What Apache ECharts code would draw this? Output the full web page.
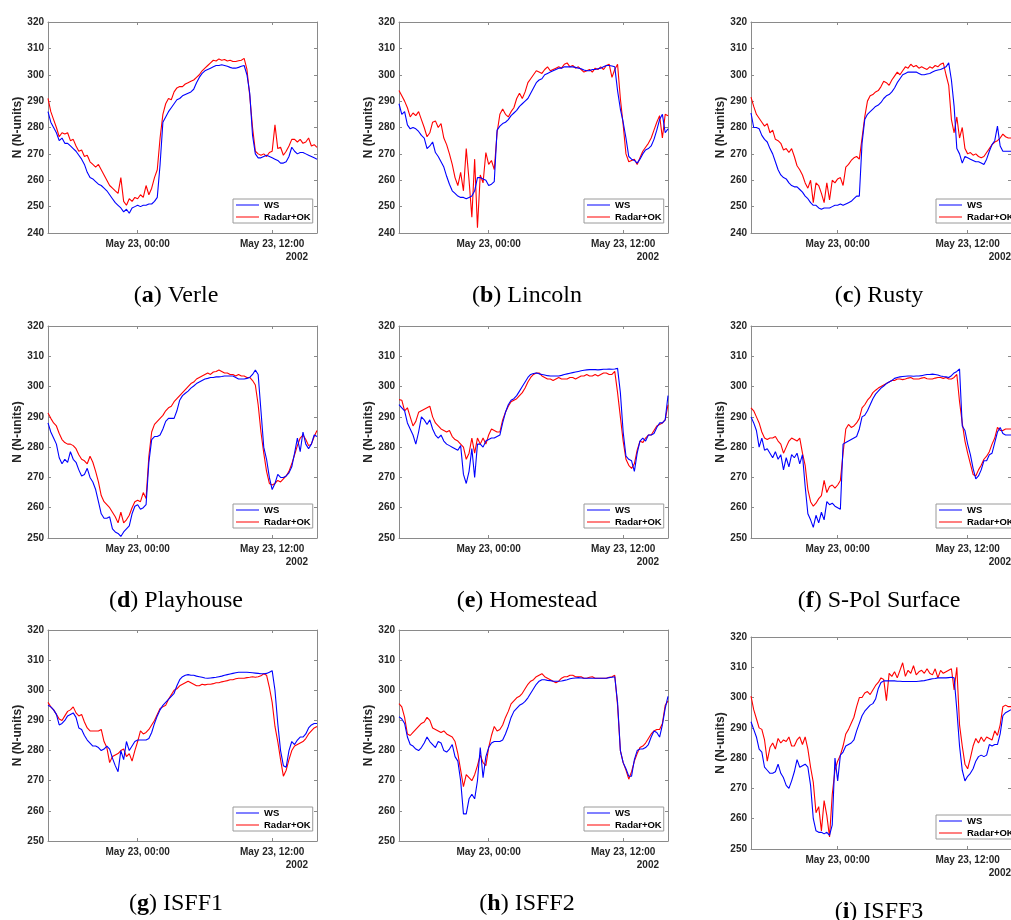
<!DOCTYPE html>
<html>
<head>
<meta charset="utf-8">
<script src="https://cdn.jsdelivr.net/npm/echarts@6.0.0/dist/echarts.min.js"></script>
<style>
html,body{margin:0;padding:0;background:#fff;}
#chart{width:1011px;height:920px;}
</style>
</head>
<body>
<div id="chart"></div>
<script>
// ---------- data ----------
// time axis: hours relative to May 23, 2002 00:00; samples every 15 minutes from May 22 16:00
const startHour = -8;
const stepHours = 0.25;
const xMinHour = -8;
const xMaxHour = 16;
const xTickHours = [0, 12];
const xTickLabels = ['May 23, 00:00', 'May 23, 12:00'];
const yearLabel = '2002';
const yAxisName = 'N (N-units)';
const seriesNames = ['WS', 'Radar+OK'];
const panelLetters = ['a', 'b', 'c', 'd', 'e', 'f', 'g', 'h', 'i'];
const panelNames = ['Verle', 'Lincoln', 'Rusty', 'Playhouse', 'Homestead', 'S-Pol Surface', 'ISFF1', 'ISFF2', 'ISFF3'];
const yMins = [240, 240, 240, 250, 250, 250, 250, 250, 250];
const yMax = 320;
const yInterval = 10;

const wsVerle = [
 286,282,280,278, 275,276,274,274, 273,272,271,269.5, 268,266,263,261,
 260.5,259.5,258.5,258, 257,256,254.5,253, 251.5,250.5,249.5,248, 249,247.5,249.5,250,
 250.5,250,250.5,250.5, 251,251,252,253.5, 266,282,284,286, 287.5,289,290.5,291,
 292,292.5,293,293.5, 294.5,297,299,300.5, 301.5,302,302.5,303, 303.5,303.5,303.8,303.5,
 303.2,302.8,302.5,302.5, 302.8,303.2,303.5,300, 293,277,270,268.5, 268.5,269,269.5,269,
 268.5,268,267.5,266.5, 266.5,267,269,272.5, 271,270,270.5,270.5, 270,269.5,269,268.5, 268];
const radarVerle = [
 291,286,283,280, 276.5,278,277.5,278, 275,275.5,273,271, 271.5,269,269.5,267,
 266,265,266,264, 262,260,258,257, 256,255,261,252, 250.5,253,252,253.5,
 253,254.5,253.5,258, 254.5,257,261,264, 276,285,289,291, 290.5,293.5,295,295.5,
 295.5,296.5,297,297.5, 298,299,300,301.5, 302.5,303.5,304.5,305.5, 305.2,306,305.5,305.8,
 305.2,305.5,305,305, 305.3,305.5,306.2,302, 292,280,271,270, 269.5,270,269,270.5,
 271,281,272,272.5, 269.5,271,273,275.5, 275.5,274.5,275.5,274, 274.5,276,273,273.5, 272.5];

const wsLincoln = [
 289,285,286,281, 279.5,280,279.5,278.5, 277,276,272,273, 274.5,270.5,269,267,
 265,261.5,258.5,256, 255,254,253.5,253.5, 253,253.5,254,256, 261,261,260.5,260,
 258,258.5,259.5,279, 280.5,281.5,282,283, 284.5,285.5,286.5,288, 289,290,291,293,
 295,297,298,298.5, 300,300.5,301,301.5, 302,302.5,302.5,303, 303,303,303,302.8,
 302.5,302.3,301.8,301.5, 301.5,302,302,302.3, 302.5,303,303.5,303.5, 303.3,303,294,287,
 282,276,269,268, 267.5,266.5,268,270, 271.5,272,273,275.5, 279,283,285,278, 279.5];
const radarLincoln = [
 294,292,290,287.5, 284,285.5,284.5,286, 283,280,276.5,278, 282,282.5,280,281.5,
 276,273.5,270,266, 261,258,263,256, 272,260,246,268, 242,262,259,270.5,
 266,267.5,264,278, 285,287,285,284, 286,287.5,291,293, 291,293.5,297,298.5,
 300,301.5,301,300.5, 302,303,301.5,302, 302.5,303,302.5,304, 304.5,303,303.5,302.5,
 303,302,301,301.5, 302,301,302.5,302, 303,302,303.5,304, 299,302,304,291,
 281,270,267,267.5, 268,266,268.5,271, 272.5,274,276,279, 282,284.5,276,285, 284.5];

const wsRusty = [
 285.5,280,280,279.5, 277,275.5,274.5,272, 270,267,264,262, 261,260.5,259,258,
 257.5,257.5,256.5,255.5, 254,253,251.5,250.5, 250.5,249.5,249,249.5, 249.5,249.5,250,250.5,
 250.5,251,250.5,251, 251.5,252,253,254, 254,274,283,285, 286,287,288,288.5,
 289.5,291,292,292.5, 293.5,295,297,298.5, 300,300.5,301,301, 301,301,300.5,300,
 300,300.3,300.5,301, 301.5,301.8,302,302.5, 303,304.5,298,288, 272,270,266.5,269,
 268.5,268,267.5,267, 267,266.5,266,268, 271,273.5,275,280.5, 273,271,271,271, 271];
const radarRusty = [
 291.5,288,285,283.5, 282,280.5,281.5,278, 279,275.5,275,274, 271.5,272,270.5,272,
 269,265.5,264,262, 259,257,260,251.5, 259,258,255,251.5, 259,252.5,260,259,
 260.5,261,258,265, 266,267.5,268.5,269, 268,276,284,290, 292,292.5,293.5,294,
 295.5,297.5,297,296, 298,299.5,301,300, 301.5,303,302.5,304, 303,303.5,302.5,303,
 302.5,302,303,302.5, 303.5,303,304,304.5, 300,296,283,278, 284,276,280,272,
 270,270.5,269.5,270, 269,268.5,269,270.5, 272,273.5,274.5,275, 276,277.5,276.5,276, 276];

const wsPlayhouse = [
 288,285,283,281, 276.5,274.5,276,275, 278.5,276,275,272.5, 270.5,271,273,270,
 268.5,266,262,258, 256.5,256.5,257,253, 252,251.5,250.5,252, 253,254,258,260.5,
 261,259.5,260,261, 275,282.5,283.5,283.5, 284,286,288.5,289.5, 289.5,289.5,292,295.5,
 297,297.8,298.5,299.5, 300.2,301,301.5,302, 302.5,302.7,303,303, 303.2,303.2,303.3,303.5,
 303.5,303.5,303.5,303, 302.5,302.5,302.5,302.7, 303,304,305.5,304, 292,280,276,270,
 266,268,271,270, 270,270.5,271.5,273.5, 278,283,278.5,285, 281,279.5,281,284, 283.5];
const radarPlayhouse = [
 291.3,289.5,288,287, 284.5,282.5,281.5,281, 281,280.5,279.5,277.5, 276,275.5,274.5,277,
 275,272,268.5,264, 262,261,260,258.5, 257,255,258.5,255, 256,257.5,260,262,
 262.5,262,265,263, 277,285,287.5,288.5, 289.5,290.5,292,293, 293.5,295,296,297,
 298,299,300,301, 301.5,302.5,303,303.5, 304,304.5,304,304.8, 305,305.5,305,304.5,
 304.5,304,304,303.5, 304,303.5,303.5,303, 303,302,300.5,294, 285,278,272,268,
 267.5,268,269,268.5, 269.5,270.5,272,274.5, 277.5,280.5,283,284, 282.5,280.5,281,283.5, 285.5];

const wsHomestead = [
 294,293,292,288, 286,284,281,285, 290,289,287.5,289, 286,284,283,284,
 282,281,280.5,280, 279.5,279,280.5,271, 268,272,279.5,270, 281,281,280,282,
 282.5,283,283,283.5, 284,288,291.5,294, 295.5,296,297,298.5, 300,301.5,303,304,
 304.3,304.5,304.2,304, 303.8,303.6,303.5,303.5, 303.5,303.5,303.7,304, 304.2,304.4,304.6,304.8,
 305,305.2,305.4,305.5, 305.6,305.6,305.6,305.5, 305.6,305.7,305.7,305.8, 305.7,305.8,306,298,
 285,277,276,275.5, 272,278,282,283, 282,284,284,284.5, 286.5,288,288,289, 297];
const radarHomestead = [
 295.7,295.5,292,293, 290,287,288.5,291.5, 292,292.5,293,293.5, 290,288,287,286,
 285.5,285,285.5,283.5, 282.5,282,281,280, 276,278,283,278, 283,281,283,281,
 284,286,285.5,285, 285,289,291.5,293.5, 295,295.5,296,297, 298,299.5,301.5,303,
 304,304.5,304.5,303.5, 303,302.5,302.5,302, 302.5,303,302.5,302.5, 302.5,303,303,302.5,
 303,303.5,303.5,304, 303.5,303.5,304,303.5, 304,304.5,304.5,304, 304,305,298,290,
 282,276,274,273, 274.5,279,282,281.5, 283,284,284,285.5, 287,287.5,288,289, 294];

const wsSPol = [
 290,288,285.5,280, 283,279,279.5,278, 276.5,278.5,276,277.5, 272.5,276.5,273.5,277.5,
 276.5,278,274.5,277.5, 267,258,256,253.5, 257.5,255,258.5,256, 262,261,261.5,260.5,
 260,259.5,281,281.5, 282,282.5,283,283.5, 286,290,290.5,292, 294,296,297.5,298.5,
 299.5,300.2,301,301.5, 302,302.7,303,303.2, 303.3,303.4,303.5,303.5, 303.4,303.5,303.5,303.6,
 303.8,304,304,304.1, 304,303.8,303.5,303.3, 303.2,303,303.6,304.5, 305,305.8,287,285.5,
 281,277.5,273,269.5, 270.5,272.5,275.5,275.5, 277.5,278,281.5,285, 286.5,284.5,284,284, 284];
const radarSPol = [
 293,292,290,288, 285,283,282.5,283, 283,283.5,282,281, 278,280,282,283,
 282.5,282,283,278, 274,266,262,260.5, 261.5,263,264,269, 265,267,267.5,266.5,
 267.5,269,278,286, 287.5,286.5,287,288, 289.5,293,294,295.5, 296.5,298,298.8,299.5,
 300,300.5,301,301.5, 302,302,302.5,302.5, 302.3,302.5,302.8,303, 302.5,302.5,302.5,302.8,
 303,302.6,302.5,302.5, 302.8,303,303,302.7, 303,302.5,302.5,303, 304,295,288,282,
 278,274.5,271,270.5, 272.5,274,276,277, 278.5,281,283,286.5, 285.5,285.5,286,286, 286];

const wsISFF1 = [
 295,294.5,293.5,292, 288.5,289,290,291.5, 292,292.5,291,287.5, 287,285,283.5,282.5,
 281.5,281.5,281,280, 280.5,281.5,280.5,277.5, 275,273,280,277, 283,280,281.5,283,
 283.5,283.5,283.5,283.5, 284,286,289,291.5, 293.5,295,296,297, 298,299,301.5,303.5,
 304.5,305,305.2,305, 305,304.7,304.5,304.3, 304.1,304,304.1,304.2, 304.3,304.5,304.7,305,
 305.2,305.4,305.6,305.8, 306,306,306,306, 305.9,305.8,305.7,305.6, 305.5,305.5,305.6,306,
 306.5,300,289,280, 275,274.5,280,283, 282,283.5,284.5,284.5, 285.5,287.5,288.5,289, 289];
const radarISFF1 = [
 296,294.5,293.5,292, 290.5,290,291.5,293, 293.5,294.5,292.5,291.5, 292,289.5,287.5,286.5,
 286.5,286.5,286.5,287, 283,281,276,278, 278.5,279,280,280.5, 278,279,276.5,280,
 283,286.5,285.5,286, 287,288.5,290,292, 294,294.5,295,297, 298.5,300,300.5,301.5,
 302,302.5,303,302.5, 302,301.5,301.5,302, 301.8,302,302,302.2, 302.5,302.5,302.8,303,
 303.2,303.5,303.5,303.8, 304,304,304,304.2, 304.3,304.5,304.3,304.5, 304.8,305.5,305,301,
 296,288,283,277, 271.5,273.5,277,280, 281.5,282,282.5,283, 284,285.5,286.5,287.5, 288];

const wsISFF2 = [
 291.2,290.5,289,284.5, 282,281.5,280.5,280, 281,282.5,284.5,283, 282,281,283,282.5,
 280,279.5,280.5,282, 278,276.5,270,259, 259,264,265.5,264, 270,281,271,278,
 281,282.5,283,283, 283,283.5,285.5,288, 291,293,294,295, 295.5,296.3,297.5,299,
 300.5,302,303,303.5, 303.5,303.3,303.2,303, 303,303,303.1,303.3, 303.5,303.8,304,304.1,
 304.2,304.1,304,304, 304,304,304,304, 304,304,304,304.2, 304.3,304.5,296,280,
 276,274,271.5,271.5, 277,280,280.5,280.5, 281,282,284.5,286.5, 286,284.5,288.5,294, 298];
const radarISFF2 = [
 295.6,294.5,291,285.5, 285,286,287,288, 289,289.5,291,290, 287.5,287,286.5,286,
 286.5,285.5,285,284.5, 283,279,273.5,268, 272,271,270,272, 275,278.5,276,275,
 281,285,288,286.5, 287,288.5,291,293, 295.5,296.5,297.5,298, 299,300.5,302,303,
 303.5,304.5,305,305.5, 304.5,304,303.5,303, 302.5,303,304,304.5, 304.5,305,305,304.5,
 304.5,304.5,304,304, 304.3,304.5,304,304, 304,304,304,304.3, 304.5,305,295,280,
 276,273.5,270.5,273, 276.5,279,281,281.5, 282.5,284,285.5,286.5, 287,287,289,295, 296.5];

const wsISFF3 = [
 292,289.5,287,283, 282,277,276,275, 275,275.5,278,275, 273.5,271,270,272.5,
 275.5,279.5,277,277.5, 278,277,271,260, 256,255.5,255.5,255, 255.5,254.5,258,280,
 272.5,281,282,284, 284.5,285,286,289, 291.5,294,295.5,296.5, 297.5,298,299.5,303,
 305,305.5,305.5,305.5, 305.5,305.5,305.4,305.4, 305.3,305.3,305.3,305.3, 305.3,305.3,305.4,305.5,
 305.6,305.8,306,306.2, 306.3,306.5,306.5,306.5, 306.5,306.6,306.7,306.5, 296,284,276,272.5,
 274,275,276.5,279, 280.5,281,280.5,281, 284.5,284,284.5,284.5, 288,294,295,295.5, 296];
const radarISFF3 = [
 300.5,296,293,290, 289.5,286,279,283.5, 285,283,286.5,285, 286,285.5,287,284,
 284,286,287,284.5, 287,283,277,272, 262,264,256,266, 261,254,268,276,
 279,281,284,288, 289.5,291.5,293.5,297, 300,300,301.5,302, 301,302.5,304,305,
 306.5,306,299,308, 307,308.5,306.5,309, 311.5,307,309,308, 310.5,307.5,308.5,309,
 308,309.5,308,307.5, 309.5,306.5,309,308, 308.5,309,309.5,302.5, 310,291,284,278,
 276.5,280,284,286.5, 285,287,285.5,287, 286.5,286,289,287.5, 291,297,297.5,297, 297];

const wsSeries = [wsVerle, wsLincoln, wsRusty, wsPlayhouse, wsHomestead, wsSPol, wsISFF1, wsISFF2, wsISFF3];
const radarSeries = [radarVerle, radarLincoln, radarRusty, radarPlayhouse, radarHomestead, radarSPol, radarISFF1, radarISFF2, radarISFF3];

// ---------- layout & style ----------
const panels = [ // left, top, width, height (plot areas)
  [48, 22, 269, 211], [399, 22, 269, 211], [751, 22, 269, 211],
  [48, 326, 269, 212], [399, 326, 269, 212], [751, 326, 269, 212],
  [48, 630, 269, 211], [399, 630, 269, 211], [751, 637, 269, 212]
];
const SANS = "'Liberation Sans', Arial, Helvetica, sans-serif";
const SERIF = "'Liberation Serif', 'Times New Roman', serif";
const axisColor = '#8a8a8a';
const labelColor = '#262626';
const colors = ['#0000ff', '#ff0000'];

function toPoints(vals) {
  return vals.map((v, i) => [startHour + i * stepHours, v]);
}

const grid = [], xAxis = [], yAxis = [], series = [], legend = [], graphic = [];

panels.forEach((p, g) => {
  const [l, t, w, h] = p;
  grid.push({ left: l, top: t, width: w, height: h, show: false });
  const xBase = {
    type: 'value', gridIndex: g, min: xMinHour, max: xMaxHour,
    axisLine: { show: true, onZero: false, lineStyle: { color: axisColor, width: 1 } },
    axisTick: { show: true, inside: true, length: 3, customValues: xTickHours, lineStyle: { color: axisColor } },
    splitLine: { show: false }
  };
  xAxis.push(Object.assign({}, xBase, {
    position: 'bottom',
    axisLabel: {
      show: true, customValues: xTickHours, margin: 6,
      formatter: v => xTickLabels[xTickHours.indexOf(v)] || '',
      color: labelColor, fontSize: 10, fontWeight: 'bold', fontFamily: SANS
    }
  }));
  xAxis.push(Object.assign({}, xBase, { position: 'top', axisLabel: { show: false } }));

  const yBase = {
    type: 'value', gridIndex: g, min: yMins[g], max: yMax, interval: yInterval,
    axisLine: { show: true, onZero: false, lineStyle: { color: axisColor, width: 1 } },
    axisTick: { show: true, inside: true, length: 3, lineStyle: { color: axisColor } },
    splitLine: { show: false }
  };
  yAxis.push(Object.assign({}, yBase, {
    position: 'left',
    axisLabel: { show: true, margin: 4, color: labelColor, fontSize: 10, fontWeight: 'bold', fontFamily: SANS },
    name: yAxisName, nameLocation: 'middle', nameGap: 16, nameRotate: 90,
    nameTextStyle: { color: labelColor, fontSize: 12, fontWeight: 'bold', fontFamily: SANS }
  }));
  yAxis.push(Object.assign({}, yBase, { position: 'right', axisLabel: { show: false } }));

  [wsSeries[g], radarSeries[g]].forEach((vals, k) => {
    series.push({
      type: 'line', name: seriesNames[k],
      xAxisIndex: 2 * g, yAxisIndex: 2 * g,
      data: toPoints(vals),
      symbol: 'none', showSymbol: false,
      lineStyle: { color: colors[k], width: 1.1 },
      itemStyle: { color: colors[k] },
      z: k === 0 ? 3 : 2,
      animation: false
    });
  });

  legend.push({
    left: l + w - 84, top: t + h - 34,
    orient: 'vertical',
    data: seriesNames.map(n => ({ name: n, icon: 'rect' })),
    itemWidth: 23, itemHeight: 1, itemGap: 2,
    padding: [1, 2, 1, 3],
    borderColor: '#9a9a9a', borderWidth: 1, backgroundColor: '#ffffff',
    selectedMode: false,
    textStyle: { color: '#000', fontSize: 9.5, fontWeight: 'bold', fontFamily: SANS }
  });

  graphic.push({
    type: 'text', x: l + w - 9, y: t + h + 24, silent: true,
    style: { text: yearLabel, align: 'right', verticalAlign: 'middle',
      fill: labelColor, fontSize: 10, fontWeight: 'bold', fontFamily: SANS }
  });
  graphic.push({
    type: 'text', x: l + 128, y: t + h + 63, silent: true,
    style: {
      text: '{n|(}{b|' + panelLetters[g] + '}{n|) ' + panelNames[g] + '}',
      align: 'center', verticalAlign: 'middle', fill: '#000',
      fontSize: 24, fontFamily: SERIF,
      rich: {
        n: { fontSize: 24, fontFamily: SERIF, fontWeight: 'normal', fill: '#000' },
        b: { fontSize: 24, fontFamily: SERIF, fontWeight: 'bold', fill: '#000' }
      }
    }
  });
});

const chart = echarts.init(document.getElementById('chart'), null, { renderer: 'canvas', width: 1011, height: 920 });
chart.setOption({
  backgroundColor: '#ffffff',
  animation: false,
  grid, xAxis, yAxis, series, legend, graphic
});
</script>
</body>
</html>
